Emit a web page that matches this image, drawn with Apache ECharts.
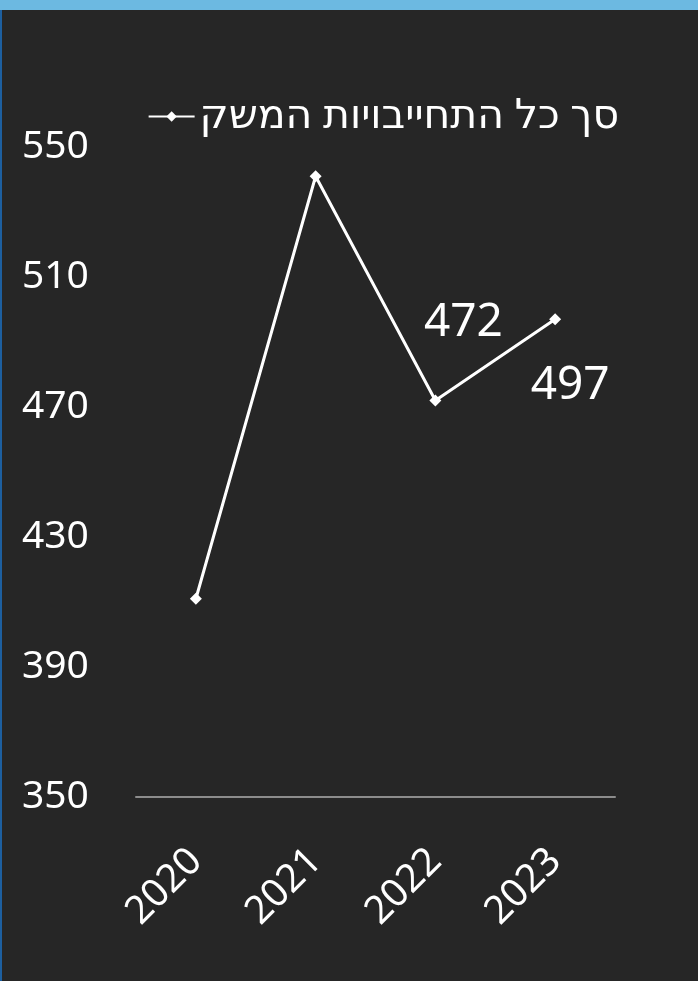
<!DOCTYPE html>
<html>
<head>
<meta charset="utf-8">
<script src="https://cdn.jsdelivr.net/npm/echarts@6/dist/echarts.min.js"></script>
<style>
  html, body { margin: 0; padding: 0; background: #262626; }
  #chart { width: 698px; height: 981px; }
</style>
</head>
<body>
<div id="chart"></div>
<script>
var years = ['2020', '2021', '2022', '2023'];
var totals = [411, 541, 472, 497];
var seriesName = 'סך כל התחייבויות המשק';
var yTicks = { min: 350, max: 550, step: 40 };

var fontFam = '"Noto Sans", "DejaVu Sans", sans-serif';
var chartobj = echarts.init(document.getElementById('chart'));

// only the last two points carry a value label
var points = totals.map(function (v, i) {
    var item = { value: v };
    if (i === 2) {
        item.label = { show: true, position: 'top', offset: [28, -44] };
    } else if (i === 3) {
        item.label = { show: true, position: 'bottom', offset: [15, 33] };
    }
    return item;
});

var option = {
    backgroundColor: '#262626',
    animation: false,
    textStyle: { fontFamily: fontFam },
    graphic: [
        { type: 'rect', left: 0, top: 0, shape: { width: 698, height: 10 }, style: { fill: '#6cb9e1' } },
        { type: 'rect', left: 0, top: 10, shape: { width: 2, height: 971 }, style: { fill: '#1d5f9f' } }
    ],
    legend: {
        top: 91,
        right: 74,
        itemWidth: 46,
        itemHeight: 13,
        itemGap: 4,
        textStyle: { color: '#ffffff', fontSize: 41, fontFamily: fontFam },
        data: [seriesName]
    },
    grid: { left: 136, right: 83, top: 147, bottom: 184 },
    xAxis: {
        type: 'category',
        data: years,
        boundaryGap: true,
        axisLine: { lineStyle: { color: '#8c8c8c', width: 2 } },
        axisTick: { show: false },
        axisLabel: { color: '#ffffff', fontSize: 39, rotate: 45, margin: 58, fontFamily: fontFam }
    },
    yAxis: {
        type: 'value',
        min: yTicks.min,
        max: yTicks.max,
        interval: yTicks.step,
        axisLine: { show: false },
        axisTick: { show: false },
        splitLine: { show: false },
        axisLabel: { color: '#ffffff', fontSize: 39, align: 'left', margin: 114, fontFamily: fontFam }
    },
    series: [
        {
            name: seriesName,
            type: 'line',
            data: points,
            symbol: 'diamond',
            symbolSize: 12,
            lineStyle: { color: '#ffffff', width: 3 },
            itemStyle: { color: '#ffffff' },
            label: { show: false, color: '#ffffff', fontSize: 46, fontFamily: fontFam }
        }
    ]
};
chartobj.setOption(option);
</script>
</body>
</html>
